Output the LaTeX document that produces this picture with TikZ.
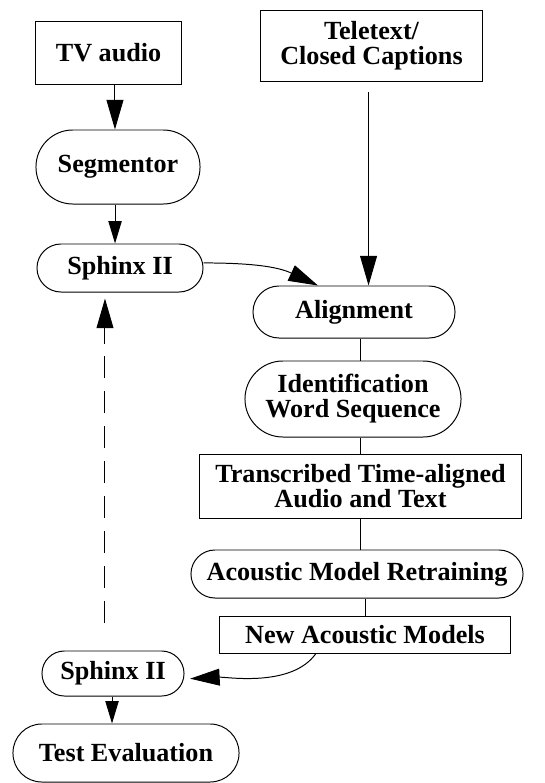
\documentclass[tikz,border=0pt]{standalone}
\usepackage{fontspec}
\setmainfont{Liberation Serif}
\usetikzlibrary{arrows.meta}

\begin{document}
\begin{tikzpicture}[x=0.025cm,y=-0.025cm,line width=0.7pt,
  every node/.style={font=\bfseries\fontsize{18.6}{17.8}\selectfont,align=center,inner sep=0pt},
  box/.style={draw},
  pill/.style={draw,rounded corners=#1},
  arr/.style={-{Triangle[length=21pt,width=12pt]}},
  sarr/.style={-{Triangle[length=16pt,width=9.5pt]}}]
\useasboundingbox (0,0) rectangle (545,783);
\node[box,minimum width=3.625cm,minimum height=1.575cm] (tv) at (108.5,52.5) {TV audio};
\node[box,minimum width=5.525cm,minimum height=1.775cm] (tele) at (371.5,45.5) {Teletext/\\Closed Captions};
\node[pill=0.92cm,minimum width=4.1cm,minimum height=1.85cm] (seg) at (118,167) {Segmentor};
\node[pill=0.6cm,minimum width=4.15cm,minimum height=1.2cm] (sphA) at (120,268) {Sphinx II};
\node[pill=0.65cm,minimum width=5.05cm,minimum height=1.3cm] (align) at (354,312) {Alignment};
\node[pill=0.95cm,minimum width=5.4cm,minimum height=1.9cm] (ident) at (353,399) {Identification\\Word Sequence};
\node[box,minimum width=8.025cm,minimum height=1.6cm] (trans) at (360.5,486) {Transcribed Time-aligned\\Audio and Text};
\node[pill=0.6cm,minimum width=8.3cm,minimum height=1.2cm] (amr) at (357,574) {Acoustic Model Retraining};
\node[box,minimum width=7.25cm,minimum height=0.925cm] (nam) at (365,634.5) {New Acoustic Models};
\node[pill=0.56cm,minimum width=3.55cm,minimum height=1.125cm] (sphB) at (113,673.5) {Sphinx II};
\node[pill=0.72cm,minimum width=5.65cm,minimum height=1.45cm] (test) at (126,753) {Test Evaluation};
\draw[arr] ([xshift=4.6pt]tv.south) -- ([xshift=4.6pt]tv.south |- seg.north);
\draw[sarr] ([xshift=-2.1pt]seg.south) -- ([xshift=-2.1pt]seg.south |- sphA.north);
\draw[arr,shorten <=7.8pt] ([xshift=-2.1pt]tele.south) -- ([xshift=-2.1pt]tele.south |- align.north);
\draw[arr] ([yshift=3.6pt]sphA.east) to[out=0,in=155] ([xshift=-25.6pt]align.north);
\draw (align.south -| trans) -- (ident.north -| trans);
\draw (ident.south -| trans) -- (trans.north);
\draw (trans.south) -- (trans.south |- amr.north);
\draw (amr.south -| nam) -- (nam.north);
\draw[arr,shorten >=4pt] ([xshift=-34.9pt]nam.south) to[out=-125,in=3,looseness=0.8] ([yshift=-3.9pt]sphB.east);
\draw[sarr] ([xshift=-0.7pt]sphB.south) -- ([xshift=-0.7pt]sphB.south |- test.north);
\draw[arr,dash pattern=on 15.6pt off 9.2pt,shorten <=19.9pt,shorten >=4.3pt] ([xshift=-5.7pt]sphB.north) -- ([xshift=-5.7pt]sphB.north |- sphA.south);
\end{tikzpicture}
\end{document}
